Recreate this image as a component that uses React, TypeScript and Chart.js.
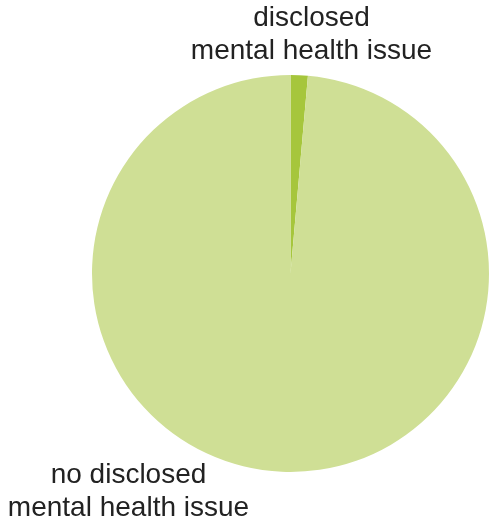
import React, { useEffect, useRef } from "react";
import { Chart, registerables } from "chart.js";

Chart.register(...registerables);

const categories = ["disclosed mental health issue", "no disclosed mental health issue"];
const values = [1.4, 98.6];
const colors = ["#a6c63c", "#cfdf95"];
const topLabelLines = ["disclosed", "mental health issue"];
const bottomLabelLines = ["no disclosed", "mental health issue"];

const labelPlugin = {
  id: "sliceLabels",
  afterDraw(chart: any) {
    const meta = chart.getDatasetMeta(0);
    const arc = meta.data[0];
    if (!arc) return;
    const { x, y, outerRadius } = arc.getProps(["x", "y", "outerRadius"], true);
    const ctx = chart.ctx;
    ctx.save();
    ctx.font = "28px 'Liberation Sans', Arial, sans-serif";
    ctx.fillStyle = "#222222";
    ctx.textAlign = "center";
    ctx.textBaseline = "alphabetic";
    const top = y - outerRadius;
    ctx.fillText(topLabelLines[0], x + 21, top - 49);
    ctx.fillText(topLabelLines[1], x + 21, top - 16);
    const bottom = y + outerRadius;
    ctx.fillText(bottomLabelLines[0], x - 162, bottom + 11);
    ctx.fillText(bottomLabelLines[1], x - 162, bottom + 44);
    ctx.restore();
  },
};

export default function App() {
  const ref = useRef<HTMLCanvasElement>(null);
  useEffect(() => {
    if (!ref.current) return;
    const chart = new Chart(ref.current, {
      type: "pie",
      data: {
        labels: categories,
        datasets: [
          {
            data: values,
            backgroundColor: colors,
            borderWidth: 0,
          },
        ],
      },
      options: {
        responsive: false,
        animation: false,
        layout: { padding: { left: 92, right: 2, top: 75, bottom: 47 } },
        plugins: {
          legend: { display: false },
          tooltip: { enabled: false },
          title: { display: false },
        },
      },
      plugins: [labelPlugin],
    });
    return () => chart.destroy();
  }, []);
  return (
    <div style={{ position: "fixed", left: 0, top: 0, width: 491, height: 519, background: "#fff" }}>
      <canvas ref={ref} width={491} height={519} style={{ display: "block" }} />
    </div>
  );
}
